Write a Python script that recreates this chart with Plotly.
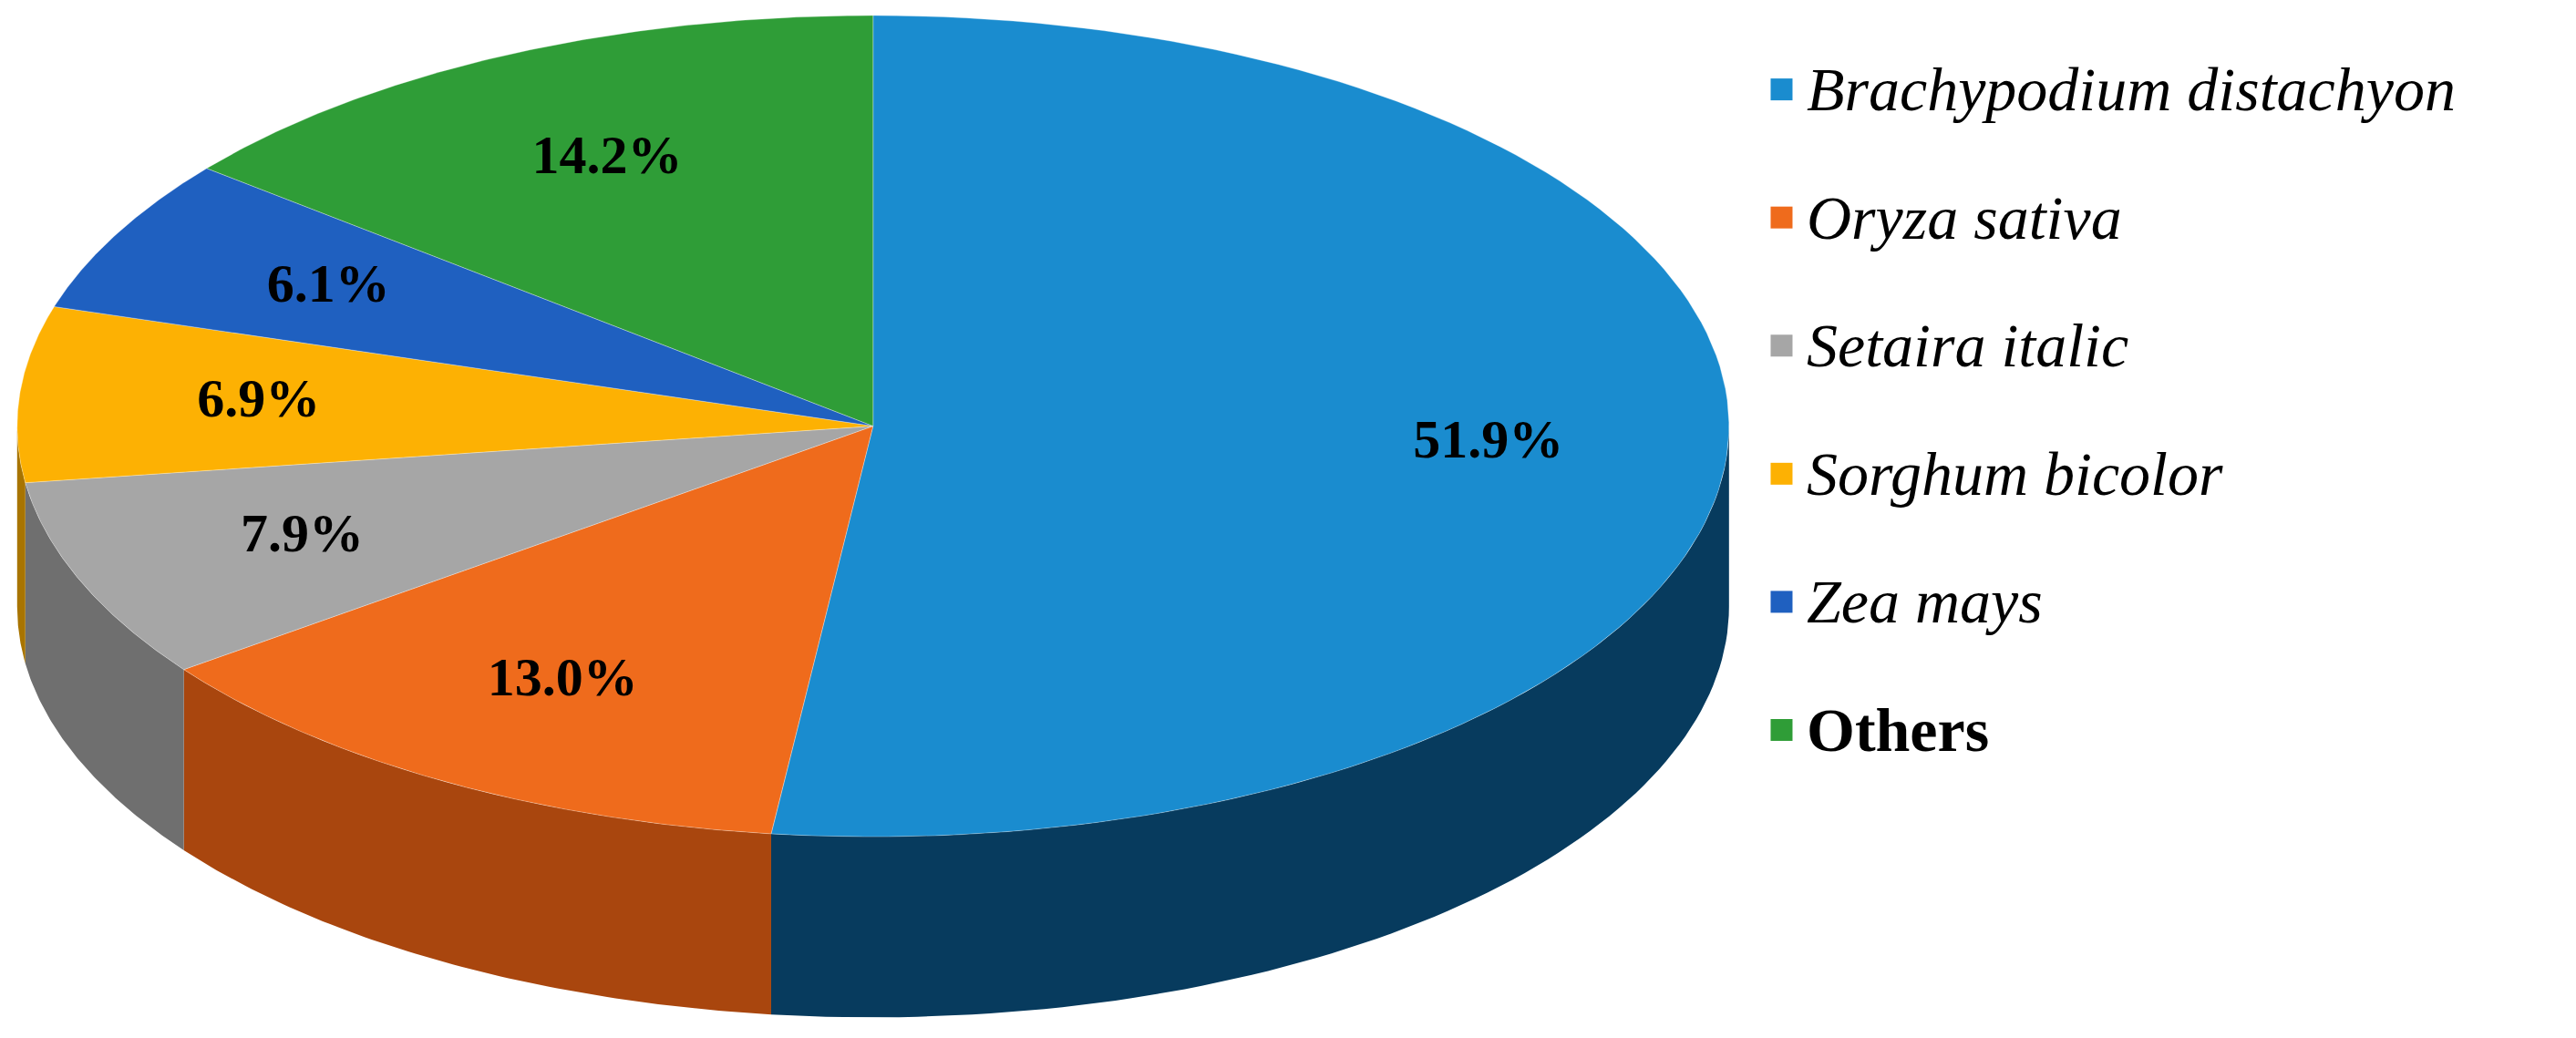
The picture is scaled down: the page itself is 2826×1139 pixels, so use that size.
import numpy as np
import plotly.graph_objects as go

species = ["Brachypodium distachyon", "Oryza sativa", "Setaira italic",
           "Sorghum bicolor", "Zea mays", "Others"]
shares = [51.9, 13.0, 7.9, 6.9, 6.1, 14.2]
top_colors = ["#1a8ccf", "#ef6b1c", "#a6a6a6", "#fdb103", "#1f60c0", "#2f9d37"]
side_colors = ["#073b5e", "#a9460e", "#6f6f6f", "#a87400", "#123a78", "#1d6523"]

# geometry in reference pixel space (1568 x 632 view)
W, H = 1568, 632
cx, cy, rx, ry, depth = 527, 255, 521, 250, 110


def pt(theta_deg, r=1.0):
    t = np.radians(theta_deg)
    return cx + r * rx * np.sin(t), cy - r * ry * np.cos(t)


fig = go.Figure()
bounds = np.concatenate([[0], np.cumsum(shares) / sum(shares) * 360])

# side walls (front half only)
for i in range(len(shares)):
    a, b = max(bounds[i], 90), min(bounds[i + 1], 270)
    if b <= a:
        continue
    th = np.linspace(a, b, 80)
    xs, ys = pt(th)
    px = np.concatenate([xs, xs[::-1], xs[:1]])
    py = np.concatenate([ys, ys[::-1] + depth, ys[:1]])
    fig.add_trace(go.Scatter(x=px, y=py, fill="toself", mode="lines",
                             line=dict(width=0), fillcolor=side_colors[i],
                             hoverinfo="skip", showlegend=False))

# top faces
for i in range(len(shares)):
    th = np.linspace(bounds[i], bounds[i + 1], 120)
    xs, ys = pt(th)
    px = np.concatenate([[cx], xs, [cx]])
    py = np.concatenate([[cy], ys, [cy]])
    fig.add_trace(go.Scatter(x=px, y=py, fill="toself", mode="lines",
                             line=dict(width=0.5, color="rgba(255,255,255,0.6)"),
                             fillcolor=top_colors[i],
                             hoverinfo="skip", showlegend=False))

# percentage labels
mids = (bounds[:-1] + bounds[1:]) / 2
lx, ly = pt(mids, 0.72)
fig.add_trace(go.Scatter(x=lx, y=ly, mode="text",
                         text=[f"<b>{v:.1f}%</b>" for v in shares],
                         textfont=dict(family="Liberation Serif", size=60, color="black"),
                         hoverinfo="skip", showlegend=False))

# legend
leg_y = [50 + 78 * k for k in range(len(species))]
fig.add_trace(go.Scatter(x=[1080] * len(species), y=leg_y, mode="markers",
                         marker=dict(symbol="square", size=24, color=top_colors),
                         hoverinfo="skip", showlegend=False))
for k, name in enumerate(species):
    label = "<b>Others</b>" if name == "Others" else f"<i>{name}</i>"
    fig.add_annotation(x=1094, y=leg_y[k], text=label, showarrow=False,
                       xanchor="left", yanchor="middle",
                       font=dict(family="Liberation Serif", size=68, color="black"))

fig.update_layout(
    width=2826, height=1139, margin=dict(l=0, r=0, t=0, b=0),
    paper_bgcolor="white", plot_bgcolor="white",
    xaxis=dict(range=[0, W], visible=False, fixedrange=True),
    yaxis=dict(range=[H, 0], visible=False, fixedrange=True),
)
fig.write_html("out.html")
